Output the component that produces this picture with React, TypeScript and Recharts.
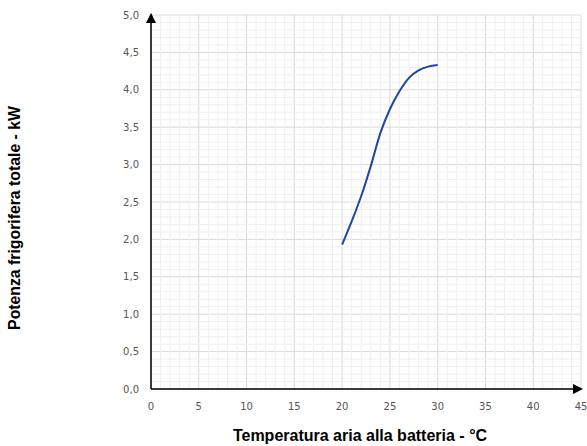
import { LineChart, Line, XAxis, YAxis, CartesianGrid, ReferenceLine } from 'recharts'

// Temperatura aria alla batteria (°C) vs potenza frigorifera totale (kW)
const temps = [20, 21, 22, 23, 24, 25, 26, 27, 28, 29, 30]
const power = [1.93, 2.24, 2.58, 2.98, 3.42, 3.74, 3.98, 4.16, 4.26, 4.31, 4.33]

const xTicks = [0, 5, 10, 15, 20, 25, 30, 35, 40, 45]
const yTicks = [0, 0.5, 1, 1.5, 2, 2.5, 3, 3.5, 4, 4.5, 5]
// minor grid: every 1 °C and every 0.1 kW
const xMinor = Array.from({ length: 46 }, (_, i) => i).filter((v) => v % 5 !== 0)
const yMinor = Array.from({ length: 51 }, (_, i) => i).filter((v) => v % 5 !== 0).map((v) => v / 10)

const data = temps.map((t, i) => ({ t, p: power[i] }))

const tickStyle = { fontFamily: 'DejaVu Sans', fontSize: 10, fill: '#555' }
const titleStyle = { fontFamily: 'Liberation Sans', fontWeight: 'bold' as const, fill: '#000' }

export default function App() {
    return (
        <div style={{ position: 'absolute', left: 0, top: 0, background: '#fff' }}>
            <LineChart
                width={587}
                height={446}
                data={data}
                margin={{ top: 15, right: 6, left: 0, bottom: 0 }}
            >
                <defs>
                    <marker id="arrow" viewBox="0 0 10 10" refX="8" refY="5" markerWidth="7" markerHeight="7" orient="auto-start-reverse">
                        <path d="M0,0 L10,5 L0,10 z" fill="#000" />
                    </marker>
                </defs>

                {xMinor.map((v) => (
                    <ReferenceLine key={'x' + v} x={v} stroke="#efefef" />
                ))}
                {yMinor.map((v) => (
                    <ReferenceLine key={'y' + v} y={v} stroke="#efefef" />
                ))}
                <CartesianGrid stroke="#d9d9d9" />

                <XAxis
                    dataKey="t"
                    type="number"
                    domain={[0, 45]}
                    ticks={xTicks}
                    height={57}
                    tickLine={false}
                    tick={tickStyle}
                    tickMargin={8}
                    axisLine={{ stroke: '#000', strokeWidth: 1.5, markerEnd: 'url(#arrow)' }}
                    label={{
                        content: () => (
                            <text x={360} y={441} textAnchor="middle" fontSize={16} {...titleStyle}>
                                Temperatura aria alla batteria - °C
                            </text>
                        ),
                    }}
                />
                <YAxis
                    type="number"
                    domain={[0, 5]}
                    ticks={yTicks}
                    width={151}
                    tickLine={false}
                    tick={tickStyle}
                    tickMargin={6}
                    tickFormatter={(v: number) => v.toFixed(1).replace('.', ',')}
                    axisLine={{ stroke: '#000', strokeWidth: 1.5, markerStart: 'url(#arrow)' }}
                    label={{
                        content: () => (
                            <text x={20} y={218} transform="rotate(-90 20 218)" textAnchor="middle" fontSize={15.8} {...titleStyle}>
                                Potenza frigorifera totale - kW
                            </text>
                        ),
                    }}
                />

                <Line
                    dataKey="p"
                    type="monotone"
                    stroke="#1f47a0"
                    strokeWidth={2}
                    dot={false}
                    isAnimationActive={false}
                />
            </LineChart>
        </div>
    )
}
